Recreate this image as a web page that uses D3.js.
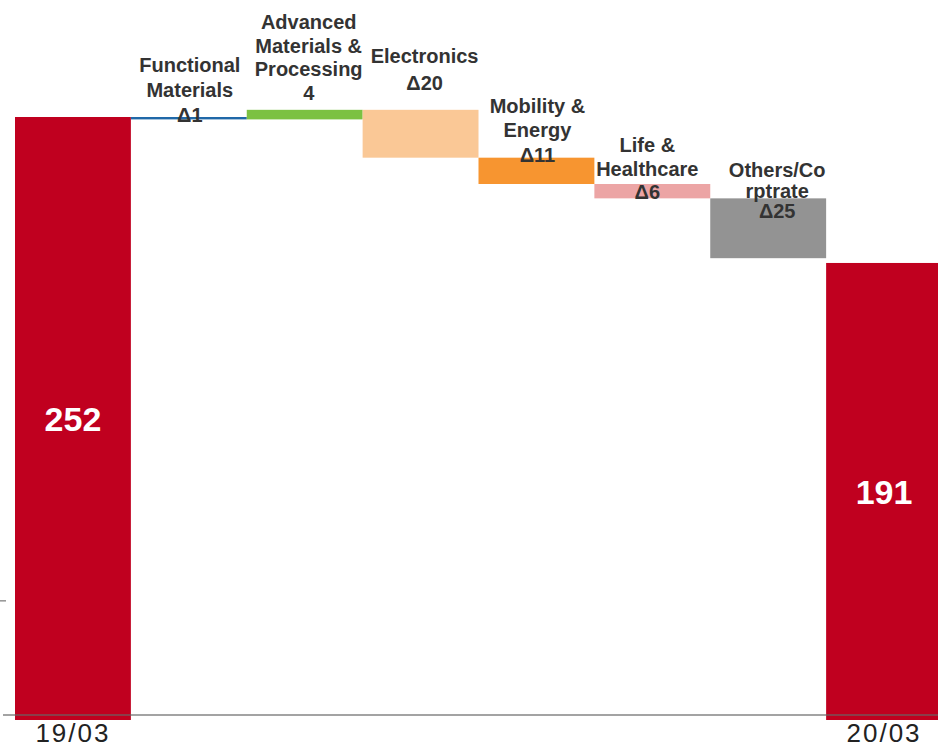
<!DOCTYPE html>
<html>
<head>
<meta charset="utf-8">
<script src="https://cdn.jsdelivr.net/npm/d3@7"></script>
<style>
  html, body { margin: 0; padding: 0; background: #fff; }
  svg { display: block; }
</style>
</head>
<body>
<svg id="chart" width="938" height="749"></svg>
<script>
// Operating income bridge, 19/03 -> 20/03 (billion yen)
const categories = ["19/03", "Functional Materials", "Advanced Materials & Processing",
  "Electronics", "Mobility & Energy", "Life & Healthcare", "Others/Corporate", "20/03"];
const nameLines = [
  [],
  ["Functional", "Materials"],
  ["Advanced", "Materials &", "Processing"],
  ["Electronics"],
  ["Mobility &", "Energy"],
  ["Life &", "Healthcare"],
  ["Others/Co", "rptrate"],
  []
];
const startValue = 252;
const deltas = [-1, 4, -20, -11, -6, -25];
const endValue = 191;
const yTicks = [50];

const totalColor = "#C0001F";
const stepColors = ["#2068A8", "#7CC142", "#FAC896", "#F79530", "#ECA5A5", "#939393"];
// label block: baseline of last line relative to the step's upper edge, horizontal nudge, line gap
const labelLayout = [
  { dy: 5, dx: 1, lead: 25 },
  { dy: -10, dx: 4, lead: 23.5 },
  { dy: -20, dx: 4, lead: 27 },
  { dy: 4, dx: 1, lead: 24.5 },
  { dy: 15, dx: -5, lead: 23.5 },
  { dy: 20, dx: 9, lead: 20.5 }
];

const svg = d3.select("#chart");

const x = d3.scaleBand().domain(categories).range([15, 942]).padding(0);
const y = d3.scaleLinear().domain([0, startValue]).range([720, 117]);

// build waterfall segments
const segs = [];
segs.push({ cat: categories[0], y0: 0, y1: startValue, total: true, value: startValue });
let run = startValue;
deltas.forEach((d, i) => {
  segs.push({ cat: categories[i + 1], y0: run, y1: run + d, total: false, value: d, idx: i });
  run += d;
});
segs.push({ cat: categories[7], y0: 0, y1: endValue, total: true, value: endValue });

// y tick on the left edge
svg.append("g")
  .attr("transform", "translate(6,0)")
  .call(d3.axisLeft(y).tickValues(yTicks).tickSize(6).tickFormat(""))
  .call(g => g.select(".domain").remove())
  .call(g => g.selectAll("line").attr("stroke", "#777").attr("stroke-width", 1.2));

svg.append("g").selectAll("rect")
  .data(segs)
  .join("rect")
  .attr("x", d => x(d.cat))
  .attr("width", x.bandwidth())
  .attr("y", d => y(Math.max(d.y0, d.y1)))
  .attr("height", d => Math.abs(y(d.y0) - y(d.y1)))
  .attr("fill", d => d.total ? totalColor : stepColors[d.idx]);

// baseline
svg.append("line")
  .attr("x1", 3).attr("x2", 938)
  .attr("y1", y(0) - 5).attr("y2", y(0) - 5)
  .attr("stroke", "#666").attr("stroke-opacity", 0.8).attr("stroke-width", 1.5);

// totals inside the red bars
svg.append("g").selectAll("text")
  .data(segs.filter(d => d.total))
  .join("text")
  .attr("x", d => x(d.cat) + x.bandwidth() / 2)
  .attr("y", d => (y(0) + y(d.y1)) / 2)
  .attr("dy", "0.36em")
  .attr("text-anchor", "middle")
  .attr("fill", "#fff")
  .attr("font-family", "Liberation Sans, Arial, sans-serif")
  .attr("font-weight", "bold")
  .attr("font-size", 34)
  .text(d => d.value);

// period labels under the axis
svg.append("g").selectAll("text")
  .data(segs.filter(d => d.total))
  .join("text")
  .attr("x", d => x(d.cat) + x.bandwidth() / 2)
  .attr("y", 742)
  .attr("text-anchor", "middle")
  .attr("fill", "#222")
  .attr("font-family", "Liberation Sans, Arial, sans-serif")
  .attr("font-size", 26)
  .attr("letter-spacing", 2)
  .text(d => d.cat);

// step labels: name lines plus the signed change
const fmt = v => v < 0 ? "\u0394" + Math.abs(v) : String(v);
const stepLabels = svg.append("g")
  .attr("font-family", "Liberation Sans, Arial, sans-serif")
  .attr("font-weight", "bold")
  .attr("font-size", 20)
  .attr("fill", "#333")
  .attr("text-anchor", "middle");

segs.filter(d => !d.total).forEach(d => {
  const lay = labelLayout[d.idx];
  const lines = nameLines[d.idx + 1].concat([fmt(d.value)]);
  const top = y(Math.max(d.y0, d.y1));
  const lastBase = top + lay.dy;
  const cx = x(d.cat) + x.bandwidth() / 2 + lay.dx;
  const t = stepLabels.append("text").attr("x", cx);
  lines.forEach((ln, k) => {
    t.append("tspan")
      .attr("x", cx)
      .attr("y", lastBase - (lines.length - 1 - k) * lay.lead)
      .text(ln);
  });
});
</script>
</body>
</html>
